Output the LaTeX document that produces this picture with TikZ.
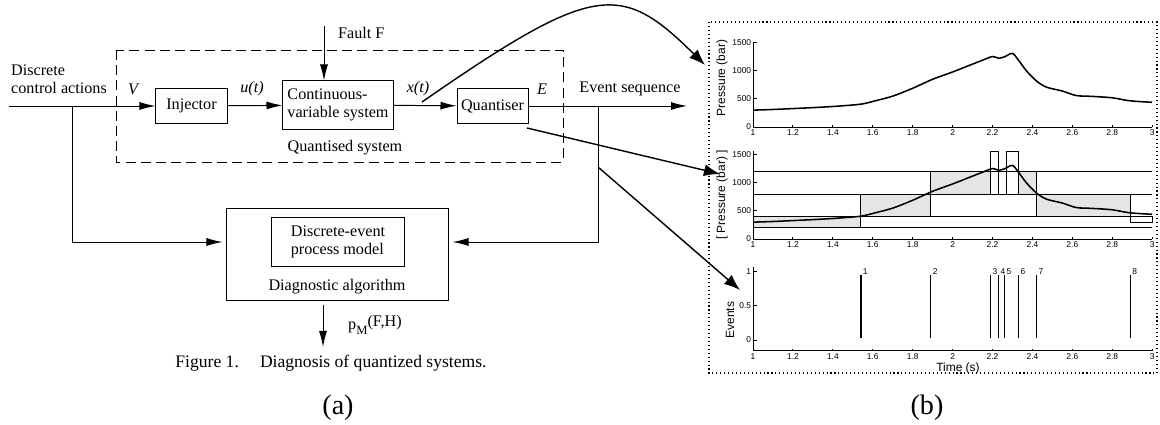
\documentclass[tikz,border=0pt]{standalone}
\usepackage{fontspec}
\setmainfont{Liberation Serif}
\setsansfont{Liberation Sans}
\usetikzlibrary{arrows.meta}
\tikzset{
	block/.style    = {draw, rectangle, line width=0.7pt, inner sep=2pt},
	input/.style    = {coordinate}, % Input
	output/.style   = {coordinate}, % Output
	sig/.style      = {font=\fontsize{11.5}{13}\selectfont\itshape},
	bigarrow/.style = {-{Latex[length=4mm,width=3mm]}, line width=1pt},
	ticklbl/.style  = {font=\sffamily\fontsize{6}{7}\selectfont, inner sep=1pt},
	axlbl/.style    = {font=\sffamily\fontsize{8.5}{10}\selectfont, rotate=90}
}
\newcommand{\pcurve}{(1.00,300) (1.10,312) (1.20,328) (1.30,345) (1.40,365) (1.50,392) (1.55,412) (1.60,455) (1.70,550) (1.80,690) (1.90,850) (2.00,980) (2.10,1120) (2.15,1190) (2.20,1255) (2.23,1225) (2.26,1250) (2.30,1310) (2.33,1190) (2.37,1000) (2.42,820) (2.47,710) (2.55,640) (2.62,560) (2.70,545) (2.80,520) (2.88,470) (2.95,450) (3.00,440)}

\begin{document}
\begin{tikzpicture}[x=0.025cm, y=-0.025cm, line width=0.7pt, >={Latex[length=4mm,width=2mm]},
	font=\fontsize{11.5}{13}\selectfont]
	\useasboundingbox (0,0) rectangle (1160,425);

	% (a) block diagram
	\draw
	node at (191.5,106)[block, minimum width=1.775cm, minimum height=0.875cm] (inj) {Injector}
	node at (338,105)[block, minimum width=2.75cm, minimum height=1.2cm, align=left] (cvs) {Continuous-\\variable system}
	node at (492.5,106)[block, minimum width=1.775cm, minimum height=0.875cm] (quant) {Quantiser}
	node at (337.5,254.5)[block, minimum width=5.525cm, minimum height=2.275cm] (diag) {}
	node at (338,242)[block, minimum width=3.3cm, minimum height=1.2cm, align=left] (dem) {Discrete-event\\process model}
	node at (6,79)[anchor=west, align=left] (dca) {Discrete\\control actions}
	node at (133,89)[sig] (v) {V}
	node at (252,89)[sig] (ut) {u(t)}
	node at (418,89)[sig] (xt) {x(t)}
	node at (542,89)[sig] (e) {E}
	node at (630,89) (evs) {Event sequence}
	node at (333,33)[anchor=west] (flt) {Fault F}
	node at (345,148) (qsl) {Quantised system}
	node at (337,287) (dal) {Diagnostic algorithm}
	node at (343,325)[anchor=west] (pml) {p\raisebox{-0.6ex}{\small M}\raisebox{0.4ex}{(F,H)}}
	node at (331,363) (cap) {\fontsize{12.5}{14}\selectfont Figure 1.\hspace{1.2em}Diagnosis of quantized systems.}
	node at (338,408) (la) {\fontsize{20}{24}\selectfont (a)}
	;
	\coordinate[input] (in) at (9,106);
	\coordinate (bl) at (72,106);
	\coordinate (br) at (598,106);
	\coordinate[output] (out) at (687,106);
	\coordinate (fault) at (324,26);
	\coordinate (pmtop) at (323,305);
	\coordinate (pm) at (323,347);

	\draw[dash pattern=on 2.5mm off 1.3mm] (116,50) rectangle (563,162);
	\draw (in) -- (bl);
	\draw[->] (bl) -- (inj);
	\draw[->] (inj) -- (cvs);
	\draw[->] (cvs) -- (quant);
	\draw[->] (quant) -- (out);
	\draw[->] (fault) -- (fault |- cvs.north);
	\draw[->, shorten >=1mm] (bl) |- (diag.west |- dem);
	\draw[->, shorten >=1mm] (br) |- (diag.east |- dem);
	\draw[->] (pmtop) -- (pm);

	% links to the plots
	\coordinate (xtap) at (422,102);
	\coordinate (qtap) at (527,128);
	\coordinate (etap) at (598,167);
	\coordinate (p1in) at (705,65);
	\coordinate (p2in) at (720,174);
	\coordinate (p3in) at (740,290);
	\draw[bigarrow] (xtap) .. controls (595,-18) and (621,-18) .. (p1in);
	\draw[bigarrow] (qtap) -- (p2in);
	\draw[bigarrow] (etap) -- (p3in);

	% (b) plots
	\draw[dotted, line width=0.8pt] (709,22) rectangle (1157,373);
	\node at (927,408) (lb) {\fontsize{20}{24}\selectfont (b)};
	\node[axlbl] at (722,78) (ax1) {Pressure (bar)};
	\node[axlbl] at (722,195) (ax2) {[ Pressure (bar) ]};
	\node[axlbl] at (730,320) (ax3) {Events};
	\node[font=\sffamily\fontsize{8.5}{10}\selectfont] at (958,368) (tm) {Time (s)};

	\begin{scope}[shift={(553.5,127)}, x=4.9875cm, y=0.0014cm]
		\draw (1,0) -- (3,0) (1,0) -- (1,1520);
		\foreach \t in {1,1.2,1.4,1.6,1.8,2,2.2,2.4,2.6,2.8,3}
			\draw (\t,0) -- (\t,30) node[ticklbl, below] at (\t,-20) {\t};
		\foreach \p in {0,500,1000,1500}
			\draw (1,\p) -- (1.02,\p) node[ticklbl, left] at (1,\p) {\p};
		\draw[line width=1.1pt] plot[smooth] coordinates {\pcurve};
	\end{scope}

	\begin{scope}[shift={(553.5,239)}, x=4.9875cm, y=0.0014cm]
		\foreach \a/\b/\lo/\hi/\f in {1/1.54/200/400/10, 1.54/1.89/400/800/10, 1.89/2.19/800/1200/10,
			2.19/2.23/1200/1560/0, 2.23/2.27/800/1200/0, 2.27/2.33/1200/1560/0, 2.33/2.42/800/1200/10,
			2.42/2.89/400/800/10, 2.89/3/300/400/0}
			\draw[fill=black!\f] (\a,\lo) rectangle (\b,\hi);
		\foreach \p in {200,400,800,1200}
			\draw (1,\p) -- (3,\p);
		\draw (1,0) -- (3,0) (1,0) -- (1,1560);
		\foreach \t in {1,1.2,1.4,1.6,1.8,2,2.2,2.4,2.6,2.8,3}
			\draw (\t,0) -- (\t,30) node[ticklbl, below] at (\t,-20) {\t};
		\foreach \p in {0,500,1000,1500}
			\draw (1,\p) -- (1.02,\p) node[ticklbl, left] at (1,\p) {\p};
		\draw[line width=1.1pt] plot[smooth] coordinates {\pcurve};
	\end{scope}

	\begin{scope}[shift={(553.5,340)}, x=4.9875cm, y=1.7cm]
		\draw (1,-0.16) -- (3,-0.16) (1,-0.16) -- (1,1.08);
		\foreach \t in {1,1.2,1.4,1.6,1.8,2,2.2,2.4,2.6,2.8,3}
			\draw (\t,-0.16) -- (\t,-0.13) node[ticklbl, below] at (\t,-0.17) {\t};
		\foreach \p in {0,0.5,1}
			\draw (1,\p) -- (1.02,\p) node[ticklbl, left] at (1,\p) {\p};
		\foreach \t/\n in {1.54/1, 1.89/2, 2.19/3, 2.23/4, 2.26/5, 2.33/6, 2.42/7, 2.89/8}
			\draw[line width=1pt] (\t,0.03) -- (\t,0.96) node[ticklbl, anchor=south west] at (\t,0.93) {\n};
	\end{scope}
\end{tikzpicture}
\end{document}
